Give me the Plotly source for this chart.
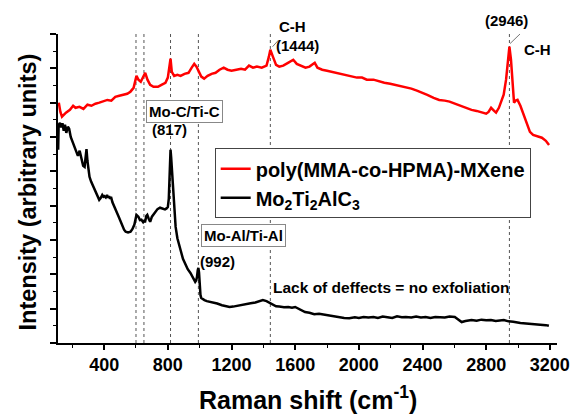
import plotly.graph_objects as go

# Raman spectra (arbitrary intensity units, stacked)
poly_shift = [115, 125, 135, 160, 185, 205, 220, 245, 270, 295, 320, 345, 370, 395, 420, 445,
              470, 495, 520, 545, 565, 585, 603, 615, 630, 645, 658, 672, 689, 710, 738, 760,
              785, 800, 812, 817, 825, 840, 860, 880, 905, 930, 950, 966, 980, 995, 1010, 1028,
              1050, 1075, 1100, 1125, 1151, 1175, 1200, 1231, 1260, 1285, 1310, 1335, 1360, 1390,
              1420, 1435, 1444, 1460, 1480, 1500, 1525, 1555, 1588, 1610, 1640, 1665, 1690, 1710,
              1723, 1740, 1770, 1800, 1830, 1860, 1890, 1920, 1950, 1988, 2020, 2050, 2092, 2130,
              2160, 2197, 2230, 2260, 2295, 2330, 2365, 2400, 2430, 2470, 2505, 2540, 2570, 2603,
              2640, 2670, 2708, 2740, 2770, 2800, 2815, 2831, 2850, 2862, 2880, 2892, 2910, 2925,
              2938, 2946, 2956, 2966, 2975, 2985, 2997, 3015, 3035, 3055, 3075, 3095, 3120, 3150,
              3175, 3195]
poly_int = [700, 673, 659, 671, 679, 691, 685, 688, 682, 694, 691, 697, 700, 703, 708, 706,
            717, 720, 723, 726, 732, 743, 778, 767, 761, 778, 787, 767, 752, 746, 746, 752,
            758, 773, 819, 828, 790, 778, 781, 778, 784, 787, 802, 813, 805, 790, 776, 770,
            778, 784, 787, 796, 802, 796, 793, 796, 799, 796, 808, 802, 805, 802,
            808, 834, 854, 834, 810, 805, 808, 816, 825, 813, 808, 802, 805, 813,
            816, 802, 796, 793, 790, 787, 784, 781, 778, 773, 773, 767, 767, 761,
            758, 755, 752, 749, 746, 741, 735, 729, 723, 714, 708, 706, 703, 697,
            691, 685, 679, 676, 673, 668, 673, 685, 676, 671, 685, 703, 723, 767,
            825, 863, 825, 738, 700, 706, 708, 691, 665, 636, 615, 606, 603, 598,
            589, 577]

max_shift = [111, 114, 122, 130, 138, 146, 154, 162, 172, 180, 190, 205, 220, 235, 246, 258,
             268, 277, 283, 289, 295, 302, 308, 318, 326, 338, 351, 360, 369, 378, 388, 395,
             400, 410, 418, 425, 431, 437, 443, 452, 462, 475, 492, 510, 525, 535, 550, 566,
             578, 590, 603, 615, 625, 634, 645, 652, 658, 665, 671, 680, 689, 700, 710, 720,
             735, 751, 765, 782, 792, 800, 806, 812, 817, 821, 825, 831, 837, 843, 849, 860,
             870, 880, 895, 911, 925, 942, 955, 965, 972, 978, 983, 988, 992, 996, 1000, 1005,
             1010, 1020, 1030, 1045, 1065, 1090, 1110, 1140, 1165, 1188, 1210, 1240, 1265, 1292,
             1320, 1350, 1375, 1397, 1420, 1440, 1458, 1480, 1500, 1530, 1557, 1580, 1600, 1620,
             1640, 1662, 1690, 1720, 1750, 1785, 1810, 1840, 1870, 1908, 1940, 1975, 2000, 2030,
             2060, 2092, 2120, 2150, 2180, 2210, 2240, 2270, 2295, 2330, 2360, 2390, 2420, 2450,
             2480, 2510, 2540, 2570, 2603, 2620, 2646, 2670, 2708, 2740, 2770, 2800, 2830, 2860,
             2890, 2911, 2940, 2970, 3015, 3050, 3085, 3120, 3150, 3175, 3194]
max_int = [563, 636, 641, 628, 640, 618, 636, 612, 630, 624, 600, 583, 565, 545, 560, 530,
           516, 513, 540, 565, 530, 505, 484, 470, 461, 448, 437, 425, 417, 422, 431, 426,
           428, 424, 431, 423, 428, 420, 426, 410, 397, 385, 367, 345, 330, 324, 322, 324,
           332, 345, 373, 368, 358, 359, 352, 356, 355, 370, 373, 362, 353, 368, 374, 380,
           390, 394, 392, 389, 392, 396, 420, 520, 563, 540, 513, 450, 417, 370, 338, 305,
           285, 271, 245, 227, 215, 204, 192, 183, 178, 182, 192, 212, 219, 205, 165, 140,
           131, 127, 125, 122, 120, 117, 115, 110, 108, 105, 106, 109, 112, 114,
           116, 118, 121, 125, 122, 117, 111, 107, 106, 104, 105, 103, 105, 100,
           94, 90, 88, 84, 85, 82, 80, 78, 76, 73, 72, 75, 73, 76,
           74, 76, 73, 77, 75, 73, 78, 75, 76, 74, 77, 74, 76, 73,
           76, 75, 74, 77, 76, 70, 61, 64, 67, 65, 68, 66, 67, 64,
           66, 67, 63, 62, 58, 57, 55, 55, 53, 52, 50]

# Band positions marked with dotted guides
band_lines = [600, 650, 817, 992, 1444, 2946]

x_ticks = [400, 800, 1200, 1600, 2000, 2400, 2800, 3200]

FONT = "Liberation Sans, Arial, sans-serif"

fig = go.Figure()
fig.add_trace(go.Scatter(x=poly_shift, y=poly_int, mode="lines",
                         line=dict(color="#ff0000", width=2.5),
                         name="<b>poly(MMA-co-HPMA)-MXene</b>"))
fig.add_trace(go.Scatter(x=max_shift, y=max_int, mode="lines",
                         line=dict(color="#000000", width=2.5),
                         name="<b>Mo<sub>2</sub>Ti<sub>2</sub>AlC<sub>3</sub></b>"))

for b in band_lines:
    fig.add_shape(type="line", x0=b, x1=b, y0=0, y1=900, xref="x", yref="y",
                  line=dict(color="#555555", width=1, dash="dot"), layer="below")

# short leader lines from peak labels
fig.add_shape(type="line", x0=1458, y0=863, x1=1495, y1=882, xref="x", yref="y",
              line=dict(color="#777777", width=1))
fig.add_shape(type="line", x0=2950, y0=872, x1=3046, y1=915, xref="x", yref="y",
              line=dict(color="#777777", width=1))


def label(text, x, y, box=False, size=15, yref="y"):
    fig.add_annotation(x=x, y=y, xref="x", yref=yref, text=f"<b>{text}</b>",
                       showarrow=False, xanchor="center", yanchor="middle",
                       font=dict(family=FONT, size=size, color="black"),
                       bordercolor="#888888" if box else None,
                       borderwidth=1 if box else 0, borderpad=2,
                       bgcolor="white" if box else None)


label("C-H", 1582, 1.023, yref="paper")
label("(1444)", 1612, 866)
label("(2946)", 2929, 1.045, yref="paper")
label("C-H", 3120, 854)
label("Mo-C/Ti-C", 905, 673, box=True)
label("(817)", 812, 621)
label("Mo-Al/Ti-Al", 1274, 312, box=True)
label("(992)", 1114, 236)
label("Lack of deffects = no exfoliation", 2203, 163, size=15.5)

fig.add_annotation(x=-0.061, y=0.489, xref="paper", yref="paper",
                   xanchor="center", yanchor="middle",
                   text="<b>Intensity (arbitrary units)</b>", textangle=-90,
                   showarrow=False, font=dict(family=FONT, size=23.5, color="black"))
fig.add_annotation(x=0.501, y=-0.178, xref="paper", yref="paper",
                   xanchor="center", yanchor="middle",
                   text="<b>Raman shift (cm<sup>-1</sup>)</b>",
                   showarrow=False, font=dict(family=FONT, size=25, color="black"))

fig.update_layout(
    width=582, height=414,
    margin=dict(l=58, r=15, t=34, b=71),
    paper_bgcolor="white", plot_bgcolor="white",
    font=dict(family=FONT, color="black"),
    showlegend=True,
    legend=dict(x=0.314, y=0.63, xanchor="left", yanchor="top",
                bordercolor="#444444", borderwidth=1, bgcolor="white",
                font=dict(family=FONT, size=20, color="black"),
                tracegroupgap=0, itemwidth=30),
    xaxis=dict(range=[110, 3245], tickvals=x_ticks, ticktext=[f"<b>{t}</b>" for t in x_ticks],
               ticks="outside", ticklen=5, tickwidth=1.5, tickcolor="black",
               minor=dict(dtick=200, tick0=0, ticks="outside", ticklen=3, tickwidth=1.2,
                          tickcolor="black"),
               showline=True, linecolor="black", linewidth=1.5, showgrid=False,
               zeroline=False, tickfont=dict(family=FONT, size=18, color="black")),
    yaxis=dict(range=[0, 900], dtick=100, tick0=0, showticklabels=False,
               ticks="outside", ticklen=6, tickwidth=1.5, tickcolor="black",
               minor=dict(dtick=50, ticks="outside", ticklen=3, tickwidth=1.2,
                          tickcolor="black"),
               showline=True, linecolor="black", linewidth=1.5, showgrid=False,
               zeroline=False),
)

fig.write_html("out.html")
